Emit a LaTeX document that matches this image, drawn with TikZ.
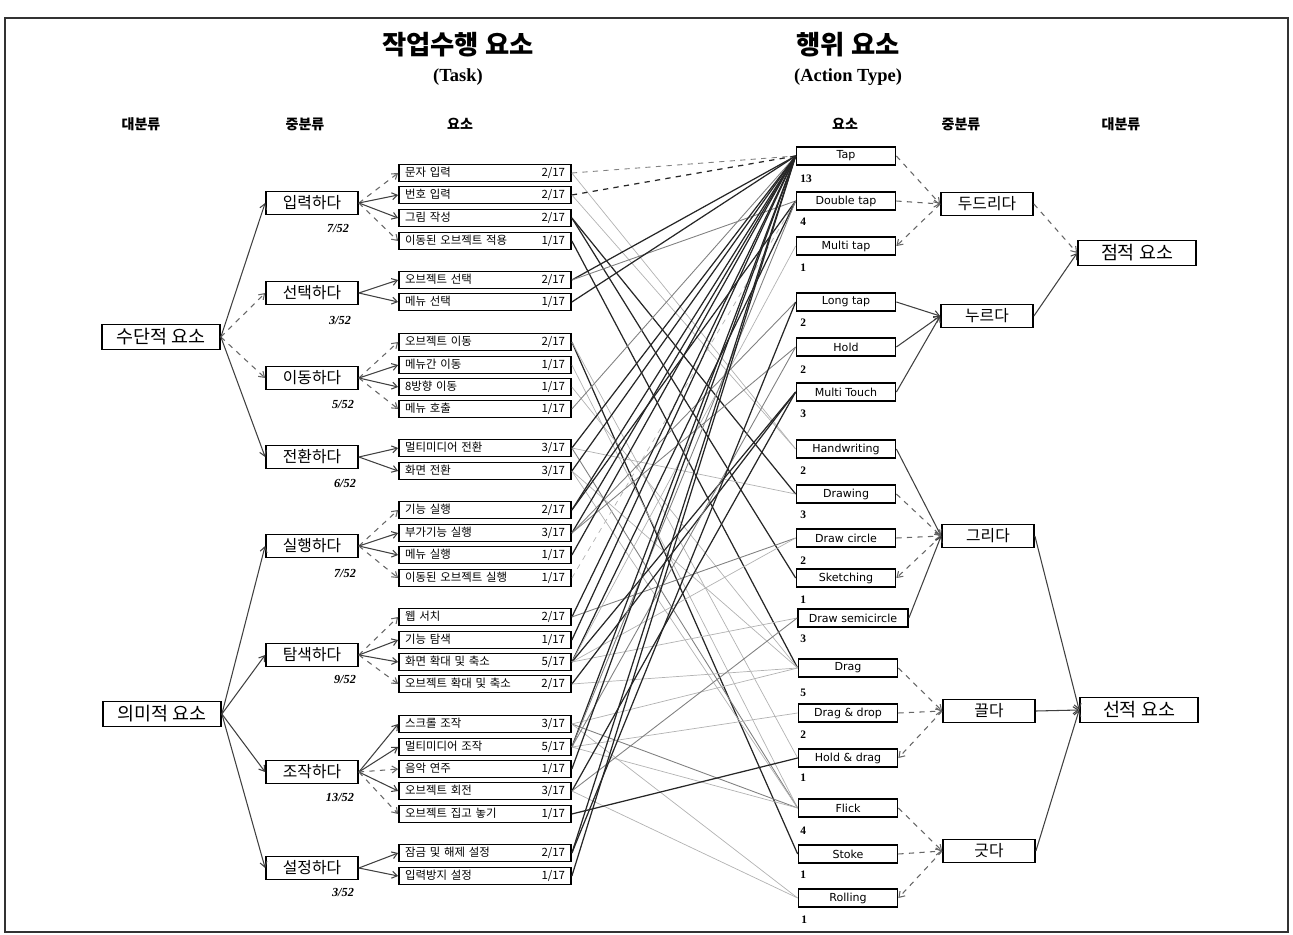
\documentclass[tikz,border=0pt]{standalone}
\usepackage{fontspec}
\usepackage{tikz}
\usetikzlibrary{arrows.meta}
\setmainfont{Liberation Serif}
\newfontfamily\kr{Noto Sans CJK KR}
\newfontfamily\act{DejaVu Sans}

\begin{document}
\begin{tikzpicture}[
  x=0.02cm, y=-0.02cm,
  >={Straight Barb[length=3pt,width=4pt]},
  bignode/.style={rectangle, draw=black, line width=1pt, minimum width=2.36cm, minimum height=0.5cm, inner sep=0pt, font=\kr\fontsize{10.5}{12}\selectfont},
  midnode/.style={rectangle, draw=black, line width=1pt, minimum width=1.84cm, minimum height=0.46cm, inner sep=0pt, font=\kr\fontsize{9}{11}\selectfont},
  elemnode/.style={rectangle, draw=black, line width=1pt, text width=3.2cm, minimum height=0.34cm, inner xsep=0.12cm, inner ysep=0pt, font=\kr\fontsize{6.5}{7}\selectfont},
  actnode/.style={rectangle, draw=black, line width=1pt, minimum width=1.98cm, minimum height=0.36cm, inner sep=0pt, font=\act\fontsize{6.3}{7}\selectfont},
  titlenode/.style={font=\kr\bfseries\fontsize{15}{18}\selectfont},
  subnode/.style={font=\bfseries\fontsize{10.5}{12}\selectfont},
  headnode/.style={font=\kr\bfseries\fontsize{8}{10}\selectfont},
  fraclabel/.style={font=\bfseries\itshape\fontsize{7}{8}\selectfont},
  cntlabel/.style={anchor=west, inner sep=0pt, font=\bfseries\fontsize{6.5}{7}\selectfont},
  solidlink/.style={->, black!75, line width=0.6pt},
  dashlink/.style={->, black!60, line width=0.6pt, dashed},
  darkline/.style={black!85, line width=0.7pt},
  midline/.style={black!50, line width=0.5pt},
  lightline/.style={black!30, line width=0.4pt},
]
\useasboundingbox (0,0) rectangle (1293,935);
\draw[black!80, line width=0.6pt] (5,18) rectangle (1288,932);

% titles
\node[titlenode] (ttask) at (458,45) {작업수행 요소};
\node[subnode] (stask) at (458,77) {(Task)};
\node[titlenode] (tact) at (848,45) {행위 요소};
\node[subnode] (sact) at (848,77) {(Action Type)};

\node[headnode] (h1) at (141,124) {대분류};
\node[headnode] (h2) at (305,124) {중분류};
\node[headnode] (h3) at (460,124) {요소};
\node[headnode] (h4) at (845,124) {요소};
\node[headnode] (h5) at (961,124) {중분류};
\node[headnode] (h6) at (1121,124) {대분류};

% task side
\node[bignode] (means) at (161,337) {수단적 요소};
\node[bignode] (sense) at (162,714) {의미적 요소};

\node[midnode] (input) at (312,203) {입력하다};
\node[midnode] (select) at (312,293) {선택하다};
\node[midnode] (move) at (312,378) {이동하다};
\node[midnode] (switch) at (312,457) {전환하다};
\node[midnode] (run) at (312,546) {실행하다};
\node[midnode] (search) at (312,655) {탐색하다};
\node[midnode] (handle) at (312,772) {조작하다};
\node[midnode] (setup) at (312,868) {설정하다};

\node[fraclabel] (f1) at (338,228) {7/52};
\node[fraclabel] (f2) at (340,320) {3/52};
\node[fraclabel] (f3) at (343,404) {5/52};
\node[fraclabel] (f4) at (345,483) {6/52};
\node[fraclabel] (f5) at (345,573) {7/52};
\node[fraclabel] (f6) at (345,679) {9/52};
\node[fraclabel] (f7) at (340,797) {13/52};
\node[fraclabel] (f8) at (343,892) {3/52};

\node[elemnode] (e11) at (485,173) {문자 입력\hfill 2/17};
\node[elemnode] (e12) at (485,195) {번호 입력\hfill 2/17};
\node[elemnode] (e13) at (485,218) {그림 작성\hfill 2/17};
\node[elemnode] (e14) at (485,241) {이동된 오브젝트 적용\hfill 1/17};
\node[elemnode] (e21) at (485,280) {오브젝트 선택\hfill 2/17};
\node[elemnode] (e22) at (485,302) {메뉴 선택\hfill 1/17};
\node[elemnode] (e31) at (485,342) {오브젝트 이동\hfill 2/17};
\node[elemnode] (e32) at (485,365) {메뉴간 이동\hfill 1/17};
\node[elemnode] (e33) at (485,387) {8방향 이동\hfill 1/17};
\node[elemnode] (e34) at (485,409) {메뉴 호출\hfill 1/17};
\node[elemnode] (e41) at (485,448) {멀티미디어 전환\hfill 3/17};
\node[elemnode] (e42) at (485,471) {화면 전환\hfill 3/17};
\node[elemnode] (e51) at (485,510) {기능 실행\hfill 2/17};
\node[elemnode] (e52) at (485,533) {부가기능 실행\hfill 3/17};
\node[elemnode] (e53) at (485,555) {메뉴 실행\hfill 1/17};
\node[elemnode] (e54) at (485,578) {이동된 오브젝트 실행\hfill 1/17};
\node[elemnode] (e61) at (485,617) {웹 서치\hfill 2/17};
\node[elemnode] (e62) at (485,640) {기능 탐색\hfill 1/17};
\node[elemnode] (e63) at (485,662) {화면 확대 및 축소\hfill 5/17};
\node[elemnode] (e64) at (485,684) {오브젝트 확대 및 축소\hfill 2/17};
\node[elemnode] (e71) at (485,724) {스크롤 조작\hfill 3/17};
\node[elemnode] (e72) at (485,747) {멀티미디어 조작\hfill 5/17};
\node[elemnode] (e73) at (485,769) {음악 연주\hfill 1/17};
\node[elemnode] (e74) at (485,791) {오브젝트 회전\hfill 3/17};
\node[elemnode] (e75) at (485,814) {오브젝트 집고 놓기\hfill 1/17};
\node[elemnode] (e81) at (485,853) {잠금 및 해제 설정\hfill 2/17};
\node[elemnode] (e82) at (485,876) {입력방지 설정\hfill 1/17};

% action side
\node[actnode] (tap) at (846,156) {Tap};
\node[actnode] (dtap) at (846,201) {Double tap};
\node[actnode] (mtap) at (846,246) {Multi tap};
\node[actnode] (ltap) at (846,302) {Long tap};
\node[actnode] (hold) at (846,347) {Hold};
\node[actnode] (mtouch) at (846,392) {Multi Touch};
\node[actnode] (hand) at (846,449) {Handwriting};
\node[actnode] (drawing) at (846,494) {Drawing};
\node[actnode] (circ) at (846,538) {Draw circle};
\node[actnode] (sketch) at (846,578) {Sketching};
\node[actnode, minimum width=2.2cm] (semi) at (853,618) {Draw semicircle};
\node[actnode] (drag) at (848,668) {Drag};
\node[actnode] (dnd) at (848,713) {Drag \& drop};
\node[actnode] (hdrag) at (848,758) {Hold \& drag};
\node[actnode] (flick) at (848,808) {Flick};
\node[actnode] (stoke) at (848,854) {Stoke};
\node[actnode] (roll) at (848,898) {Rolling};

\node[cntlabel] (c1) at (800,179) {13};
\node[cntlabel] (c2) at (800,222) {4};
\node[cntlabel] (c3) at (800,268) {1};
\node[cntlabel] (c4) at (800,323) {2};
\node[cntlabel] (c5) at (800,370) {2};
\node[cntlabel] (c6) at (800,414) {3};
\node[cntlabel] (c7) at (800,471) {2};
\node[cntlabel] (c8) at (800,515) {3};
\node[cntlabel] (c9) at (800,561) {2};
\node[cntlabel] (c10) at (800,600) {1};
\node[cntlabel] (c11) at (800,639) {3};
\node[cntlabel] (c12) at (800,693) {5};
\node[cntlabel] (c13) at (800,735) {2};
\node[cntlabel] (c14) at (800,778) {1};
\node[cntlabel] (c15) at (800,831) {4};
\node[cntlabel] (c16) at (800,875) {1};
\node[cntlabel] (c17) at (801,920) {1};

\node[midnode] (vknock) at (987,204) {두드리다};
\node[midnode] (vpress) at (987,316) {누르다};
\node[midnode] (vdraw) at (988,536) {그리다};
\node[midnode] (vpull) at (989,711) {끌다};
\node[midnode] (vstroke) at (989,851) {긋다};

\node[bignode] (point) at (1137,253) {점적 요소};
\node[bignode] (line) at (1139,710) {선적 요소};

% big -> mid (task)
\draw[solidlink] (means.east) -- (input.west);
\draw[dashlink] (means.east) -- (select.west);
\draw[dashlink] (means.east) -- (move.west);
\draw[solidlink] (means.east) -- (switch.west);
\draw[solidlink] (sense.east) -- (run.west);
\draw[solidlink] (sense.east) -- (search.west);
\draw[solidlink] (sense.east) -- (handle.west);
\draw[solidlink] (sense.east) -- (setup.west);

% mid -> element (task)
\draw[dashlink] (input.east) -- (e11.west);
\draw[solidlink] (input.east) -- (e12.west);
\draw[solidlink] (input.east) -- (e13.west);
\draw[dashlink] (input.east) -- (e14.west);
\draw[solidlink] (select.east) -- (e21.west);
\draw[solidlink] (select.east) -- (e22.west);
\draw[dashlink] (move.east) -- (e31.west);
\draw[solidlink] (move.east) -- (e32.west);
\draw[solidlink] (move.east) -- (e33.west);
\draw[dashlink] (move.east) -- (e34.west);
\draw[solidlink] (switch.east) -- (e41.west);
\draw[solidlink] (switch.east) -- (e42.west);
\draw[dashlink] (run.east) -- (e51.west);
\draw[solidlink] (run.east) -- (e52.west);
\draw[solidlink] (run.east) -- (e53.west);
\draw[dashlink] (run.east) -- (e54.west);
\draw[dashlink] (search.east) -- (e61.west);
\draw[solidlink] (search.east) -- (e62.west);
\draw[solidlink] (search.east) -- (e63.west);
\draw[dashlink] (search.east) -- (e64.west);
\draw[solidlink] (handle.east) -- (e71.west);
\draw[solidlink] (handle.east) -- (e72.west);
\draw[dashlink] (handle.east) -- (e73.west);
\draw[solidlink] (handle.east) -- (e74.west);
\draw[dashlink] (handle.east) -- (e75.west);
\draw[solidlink] (setup.east) -- (e81.west);
\draw[solidlink] (setup.east) -- (e82.west);

% element -> action
\draw[midline, dashed] (e11.east) -- (tap.west);
\draw[lightline] (e11.east) -- (hand.west);
\draw[darkline, dashed] (e12.east) -- (tap.west);
\draw[lightline] (e12.east) -- (hand.west);
\draw[darkline] (e13.east) -- (drawing.west);
\draw[darkline] (e13.east) -- (sketch.west);
\draw[darkline] (e14.east) -- (drag.west);
\draw[darkline] (e21.east) -- (tap.west);
\draw[midline] (e21.east) -- (dtap.west);
\draw[darkline] (e22.east) -- (tap.west);
\draw[darkline] (e31.east) -- (stoke.west);
\draw[lightline] (e31.east) -- (hdrag.west);
\draw[lightline] (e32.east) -- (flick.west);
\draw[lightline] (e33.east) -- (drag.west);
\draw[midline] (e34.east) -- (tap.west);
\draw[darkline] (e41.east) -- (tap.west);
\draw[midline] (e41.east) -- (flick.west);
\draw[lightline] (e41.east) -- (drawing.west);
\draw[darkline] (e42.east) -- (tap.west);
\draw[lightline] (e42.east) -- (flick.west);
\draw[lightline] (e42.east) -- (drag.west);
\draw[darkline] (e51.east) -- (tap.west);
\draw[darkline] (e51.east) -- (dtap.west);
\draw[darkline] (e52.east) -- (tap.west);
\draw[midline] (e52.east) -- (ltap.west);
\draw[midline] (e52.east) -- (hold.west);
\draw[darkline] (e53.east) -- (tap.west);
\draw[lightline, dashed] (e54.east) -- (dtap.west);
\draw[darkline] (e61.east) -- (tap.west);
\draw[midline] (e61.east) -- (circ.west);
\draw[darkline] (e62.east) -- (tap.west);
\draw[darkline] (e63.east) -- (dtap.west);
\draw[lightline] (e63.east) -- (mtap.west);
\draw[darkline] (e63.east) -- (mtouch.west);
\draw[lightline] (e63.east) -- (circ.west);
\draw[lightline] (e63.east) -- (semi.west);
\draw[darkline] (e64.east) -- (mtouch.west);
\draw[lightline] (e64.east) -- (drag.west);
\draw[midline] (e71.east) -- (flick.west);
\draw[lightline] (e71.east) -- (drag.west);
\draw[lightline] (e71.east) -- (roll.west);
\draw[darkline] (e72.east) -- (tap.west);
\draw[midline] (e72.east) -- (dtap.west);
\draw[midline] (e72.east) -- (hold.west);
\draw[lightline] (e72.east) -- (flick.west);
\draw[lightline] (e72.east) -- (dnd.west);
\draw[darkline] (e73.east) -- (tap.west);
\draw[darkline] (e74.east) -- (mtouch.west);
\draw[midline] (e74.east) -- (semi.west);
\draw[lightline] (e74.east) -- (roll.west);
\draw[darkline] (e75.east) -- (hdrag.west);
\draw[darkline] (e81.east) -- (tap.west);
\draw[darkline] (e81.east) -- (ltap.west);
\draw[darkline] (e82.east) -- (tap.west);

% action -> mid (action type)
\draw[dashlink] (tap.east) -- (vknock.west);
\draw[dashlink] (dtap.east) -- (vknock.west);
\draw[dashlink] (vknock.west) -- (mtap.east);
\draw[solidlink] (ltap.east) -- (vpress.west);
\draw[solidlink] (hold.east) -- (vpress.west);
\draw[solidlink] (mtouch.east) -- (vpress.west);
\draw[solidlink] (hand.east) -- (vdraw.west);
\draw[dashlink] (drawing.east) -- (vdraw.west);
\draw[dashlink] (circ.east) -- (vdraw.west);
\draw[dashlink] (vdraw.west) -- (sketch.east);
\draw[solidlink] (semi.east) -- (vdraw.west);
\draw[dashlink] (drag.east) -- (vpull.west);
\draw[dashlink] (dnd.east) -- (vpull.west);
\draw[dashlink] (vpull.west) -- (hdrag.east);
\draw[dashlink] (flick.east) -- (vstroke.west);
\draw[dashlink] (stoke.east) -- (vstroke.west);
\draw[dashlink] (vstroke.west) -- (roll.east);

% mid -> big (action type)
\draw[dashlink] (vknock.east) -- (point.west);
\draw[solidlink] (vpress.east) -- (point.west);
\draw[solidlink] (vdraw.east) -- (line.west);
\draw[solidlink] (vpull.east) -- (line.west);
\draw[solidlink] (vstroke.east) -- (line.west);

\end{tikzpicture}
\end{document}
